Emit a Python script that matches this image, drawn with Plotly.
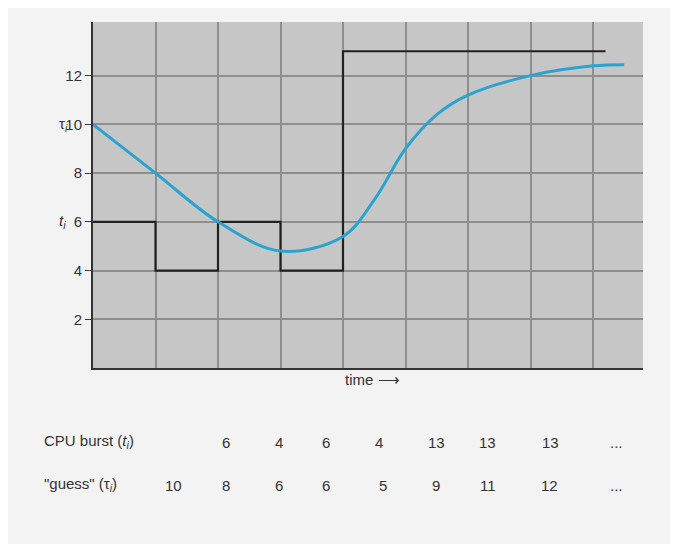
import plotly.graph_objects as go

# CPU burst (step) and exponential-average guess
burst_x = [0, 1, 1, 2, 2, 3, 3, 4, 4, 8.2]
burst_y = [6, 6, 4, 4, 6, 6, 4, 4, 13, 13]
guess_x = [0, 1, 2, 3, 4, 4.5, 5, 5.5, 6, 7, 8, 8.5]
guess_y = [10, 8, 6, 4.8, 5.4, 6.9, 9.0, 10.4, 11.2, 12.0, 12.4, 12.45]

bursts = ["6", "4", "6", "4", "13", "13", "13", "..."]
guesses = ["10", "8", "6", "6", "5", "9", "11", "12", "..."]

fig = go.Figure()
fig.add_trace(go.Scatter(x=burst_x, y=burst_y, mode="lines",
                         line=dict(color="#222222", width=2.2)))
fig.add_trace(go.Scatter(x=guess_x, y=guess_y, mode="lines",
                         line=dict(color="#2aa3cf", width=3, shape="spline", smoothing=1.0)))

font = dict(family="Liberation Sans, Arial", size=15, color="#333333")
fig.update_layout(
    width=678, height=544, showlegend=False,
    margin=dict(l=85, r=43, t=14, b=184),
    paper_bgcolor="#f3f3f3", plot_bgcolor="#c6c6c6",
    font=font,
    xaxis=dict(range=[0, 8.8], dtick=1, showticklabels=False, showgrid=True,
               gridcolor="#8e8e8e", gridwidth=1.5, zeroline=False,
               showline=True, linecolor="#333333", linewidth=2),
    yaxis=dict(range=[0, 14.2], tickvals=[2, 4, 6, 8, 10, 12], showgrid=True,
               gridcolor="#8e8e8e", gridwidth=1.5, zeroline=False,
               showline=True, linecolor="#333333", linewidth=2, ticks="outside",
               ticklen=6, tickcolor="#333333", tickfont=dict(size=15, color="#333333")),
)

def px_x(p):
    return (p - 8 - 85) / 550

def px_y(p):
    return (360 - (p - 8)) / 346

ann = []
ann.append(dict(x=px_x(57), y=10, xref="paper", yref="y", text="τ<i><sub>i</sub></i>", showarrow=False))
ann.append(dict(x=px_x(57), y=6, xref="paper", yref="y", text="<i>t<sub>i</sub></i>", showarrow=False))
ann.append(dict(x=px_x(372), y=px_y(390), xref="paper", yref="paper", text="time ⟶", showarrow=False))
ann.append(dict(x=px_x(42), y=px_y(453), xref="paper", yref="paper", text="CPU burst (<i>t<sub>i</sub></i>)", showarrow=False, xanchor="left"))
ann.append(dict(x=px_x(42), y=px_y(496), xref="paper", yref="paper", text="\"guess\" (τ<i><sub>i</sub></i>)", showarrow=False, xanchor="left"))
burst_px = [220, 273, 326, 379, 436, 498, 561, 625]
guess_px = [163, 220, 273, 326, 383, 436, 498, 560, 625]
for p, b in zip(burst_px, bursts):
    ann.append(dict(x=px_x(p), y=px_y(453), xref="paper", yref="paper", text=b, showarrow=False))
for p, g in zip(guess_px, guesses):
    ann.append(dict(x=px_x(p), y=px_y(496), xref="paper", yref="paper", text=g, showarrow=False))
fig.update_layout(annotations=ann)

fig.write_html("out.html")
